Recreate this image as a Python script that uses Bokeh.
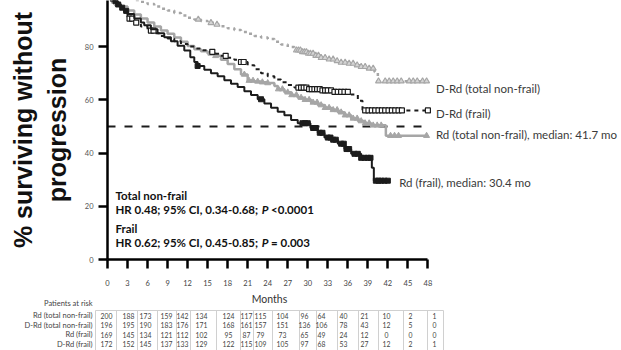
import numpy as np
from bokeh.plotting import figure
from bokeh.layouts import column
from bokeh.models import Range1d, FixedTicker, ColumnDataSource
from bokeh.core.properties import value
from bokeh.embed import file_html
from bokeh.resources import INLINE

# ---------------------------------------------------------------------------
# Kaplan-Meier estimates: step times (months) and % surviving without progression
# ---------------------------------------------------------------------------
drd_tnf_t = [0, 0.5, 1, 2, 3, 4, 5, 6, 7, 8, 9, 10, 11, 12, 13, 14, 15, 16, 17, 18,
             19, 20, 21, 22, 23, 24, 25, 26, 27, 28, 29, 30, 31, 32, 33, 34, 35, 36,
             37, 38, 39, 40, 40.5]
drd_tnf_s = [100, 99.5, 99, 98.5, 98, 97.5, 96.8, 96, 95, 94.2, 93.5, 92.6, 91.7, 90.8,
             90.2, 89.6, 88.9, 88.3, 87.6, 86.9, 86.2, 85.5, 84.8, 84.0, 83.4, 82.8,
             81.8, 80.8, 79.8, 78.6, 78.0, 77.4, 76.6, 75.8, 75.2, 74.6, 74.0, 73.6,
             73.0, 72.4, 71.8, 70.4, 67.0]
drd_tnf_end = 48
drd_tnf_cens = [13.6, 15.5, 16.4, 28.3, 28.6, 28.9, 29.2, 29.5, 29.8, 30.1, 30.4, 30.8,
                31.2, 31.6, 32.0, 32.6, 33.2, 33.8, 34.4, 35.0, 35.6, 36.2, 36.8, 37.4,
                38.0, 38.6, 39.2, 39.8, 40.6, 41.6, 42.2, 42.8, 43.4, 44.0, 45.2, 45.8,
                46.4, 47.2, 47.8]

drd_fr_t = [0, 0.5, 1, 1.5, 2, 2.5, 3, 4, 5, 6, 7, 8, 9, 10, 11, 12, 13, 14, 15, 16,
            17, 18, 19, 20, 21, 22, 23, 24, 25, 26, 27, 28, 30, 32, 34, 36.5, 37.5, 38.2]
drd_fr_s = [100, 98.5, 97, 95.5, 94, 92.5, 90.5, 89, 87.5, 86, 85, 84, 83, 82, 81, 80,
            79.3, 78.6, 78, 77.3, 76.5, 75.8, 75, 74.2, 73, 71.5, 70, 68.8, 67.6, 66.6,
            65.6, 64.6, 64, 63.5, 63, 62, 59.6, 56]
drd_fr_end = 48
drd_fr_cens = [3.3, 3.7, 4.3, 6.5, 6.9, 15.7, 17.7, 20.0, 20.4, 28.6, 29.0, 29.4, 29.8,
               30.2, 30.6, 31.0, 31.4, 31.8, 32.2, 32.6, 33.0, 33.5, 34.0, 34.5, 35.0,
               35.5, 36.0, 38.6, 39.1, 39.6, 40.1, 40.6, 41.1, 41.6, 42.1, 42.6, 43.1,
               43.6, 44.1, 48.0]

rd_tnf_t = [0, 0.5, 1, 1.5, 2, 3, 4, 5, 6, 7, 8, 9, 10, 11, 12, 13, 14, 15, 16, 17, 18,
            19, 20, 21, 22, 23, 24, 25, 25.5, 26.5, 27.5, 28.5, 29.5, 30.5, 31.5, 32.5,
            33.5, 34.5, 35.5, 36.5, 37.5, 38.5, 39.5, 41.7]
rd_tnf_s = [100, 98.5, 97, 96, 95, 93.5, 92, 90.5, 89, 87.5, 86, 84.8, 83.4, 81.8, 80.2,
            79, 78.2, 77.4, 76.5, 75, 73.4, 71.5, 69.5, 67.2, 66.9, 66.6, 66.3, 65.2, 64,
            62.8, 61.8, 60.8, 60, 59, 58, 57, 56.2, 55.3, 54.2, 53, 52, 51.2, 50.4, 46.5]
rd_tnf_end = 48
rd_tnf_cens = [0.5, 1.0, 1.5, 15.5, 16.2, 20.5, 21.2, 21.8, 22.5, 23.2, 24.0, 25.6, 26.2,
               27.0, 27.6, 28.3, 29.0, 29.6, 30.2, 30.8, 31.4, 32.0, 32.6, 33.2, 33.8,
               34.4, 35.0, 35.6, 36.2, 36.8, 37.4, 38.0, 38.6, 39.2, 39.8, 40.4, 41.0,
               42.4, 43.0, 43.6, 47.8]

rd_fr_t = [0, 0.3, 0.6, 1, 1.5, 2, 2.5, 3, 4, 5, 5.5, 6.5, 7.5, 8.5, 9.5, 10.5, 11.5,
           12.4, 13, 13.5, 14.5, 15.5, 16.5, 17.5, 18.5, 19.5, 20.5, 21.5, 22.5, 23.5,
           24.5, 25.5, 26.5, 27.5, 28.5, 30.4, 31.5, 32.5, 33.5, 34.5, 35.5, 36.5, 38,
           39.6, 39.9]
rd_fr_s = [100, 99, 98, 97, 95.8, 94.6, 93.4, 92.2, 90.5, 89, 88, 86.5, 85, 83.5, 82,
           80.3, 78.5, 76, 74.2, 72.7, 71.3, 70, 68.8, 67.3, 66, 64.8, 63.2, 61.8, 60.2,
           58.6, 57, 55.5, 54.2, 52.4, 51.2, 49.4, 47.6, 45.8, 45, 43.5, 41.5, 39.7,
           38.2, 34.5, 29.6]
rd_fr_end = 42
rd_fr_cens = [0.4, 0.8, 1.2, 1.6, 2.2, 2.8, 13.5, 23.0, 29.2, 29.6, 30.0, 30.8, 31.2,
              31.8, 32.2, 33.0, 33.4, 33.8, 34.2, 35.0, 35.4, 35.8, 36.2, 37.0, 37.5,
              38.0, 38.5, 39.0, 39.4, 40.2, 40.6, 41.0, 41.5, 42.0]

median_level = 50

# Number at risk
month_ticks = list(range(0, 49, 3))
y_ticks = [0, 20, 40, 60, 80]
risk_labels = ["Rd (total non-frail)", "D-Rd (total non-frail)", "Rd (frail)", "D-Rd (frail)"]
risk_rd_tnf = [200, 188, 173, 159, 142, 134, 124, 117, 115, 104, 96, 64, 40, 21, 10, 2, 1]
risk_drd_tnf = [196, 195, 190, 183, 176, 171, 168, 161, 157, 151, 136, 106, 78, 43, 12, 5, 0]
risk_rd_fr = [169, 145, 134, 121, 112, 102, 95, 87, 79, 73, 65, 49, 24, 12, 0, 0, 0]
risk_drd_fr = [172, 152, 145, 137, 133, 129, 122, 115, 109, 105, 97, 68, 53, 27, 12, 2, 1]

GRAY = "#a6a6a6"
BLACK = "#1c1c1c"
TXT = "#3a3a3a"
FONT = "Lato"


def step_xy(t, s, end):
    return list(t) + [end], list(s) + [s[-1]]


def at(t, s, times):
    idx = np.searchsorted(np.asarray(t), np.asarray(times), side="right") - 1
    return list(np.asarray(s)[idx])


# ---------------------------------------------------------------------------
# Survival plot
# ---------------------------------------------------------------------------
p = figure(width=621, height=293, x_range=Range1d(0, 77.0), y_range=Range1d(0, 97.3),
           output_backend="svg", toolbar_location=None,
           min_border_left=107, min_border_right=0, min_border_top=0,
           min_border_bottom=34)
p.frame_align = False
p.outline_line_color = None
p.grid.visible = False
p.background_fill_color = "white"

xa = p.xaxis[0]
xa.ticker = FixedTicker(ticks=month_ticks)
xa.bounds = (0, 48)
xa.axis_line_width = 2.5
xa.axis_line_color = "black"
xa.major_tick_line_width = 2.5
xa.major_tick_line_color = "black"
xa.major_tick_out = 9
xa.major_tick_in = 0
xa.minor_tick_line_color = None
xa.major_label_text_font = FONT
xa.major_label_text_font_size = "7.5px"
xa.major_label_text_color = "#444444"
xa.major_label_standoff = 11

ya = p.yaxis[0]
ya.ticker = FixedTicker(ticks=y_ticks)
ya.axis_line_width = 2.5
ya.axis_line_color = "black"
ya.major_tick_line_width = 2.5
ya.major_tick_line_color = "black"
ya.major_tick_out = 9
ya.major_tick_in = 0
ya.minor_tick_line_color = None
ya.major_label_text_font = FONT
ya.major_label_text_font_size = "7.5px"
ya.major_label_text_color = "#555555"
ya.major_label_standoff = 5
ya.axis_label = "% surviving without\nprogression"
ya.axis_label_text_font = "Liberation Sans"
ya.axis_label_text_font_style = "bold"
ya.axis_label_text_font_size = "25px"
ya.axis_label_text_color = "#111111"
ya.axis_label_standoff = 11

# median reference line
p.line([0, 47.8], [median_level, median_level], line_color=BLACK, line_width=2,
       line_dash="8 9")

# curves
x, y = step_xy(drd_tnf_t, drd_tnf_s, drd_tnf_end)
p.step(x, y, mode="after", line_color=GRAY, line_width=2.5, line_dash="3 4")
p.scatter(drd_tnf_cens, at(drd_tnf_t, drd_tnf_s, drd_tnf_cens), marker="triangle",
          size=6, fill_color="#d4d4d4", line_color=GRAY, line_width=1.1)

x, y = step_xy(rd_tnf_t, rd_tnf_s, rd_tnf_end)
p.step(x, y, mode="after", line_color=GRAY, line_width=2.5)
p.scatter(rd_tnf_cens, at(rd_tnf_t, rd_tnf_s, rd_tnf_cens), marker="triangle",
          size=6, fill_color=GRAY, line_color=GRAY)

x, y = step_xy(drd_fr_t, drd_fr_s, drd_fr_end)
p.step(x, y, mode="after", line_color=BLACK, line_width=2, line_dash="4 4")
p.scatter(drd_fr_cens, at(drd_fr_t, drd_fr_s, drd_fr_cens), marker="square",
          size=5, fill_color="white", line_color=BLACK, line_width=1.2)

x, y = step_xy(rd_fr_t, rd_fr_s, rd_fr_end)
p.step(x, y, mode="after", line_color=BLACK, line_width=2)
p.scatter(rd_fr_cens, at(rd_fr_t, rd_fr_s, rd_fr_cens), marker="square",
          size=5, fill_color=BLACK, line_color=BLACK)

# curve labels
p.text(x=[49.2, 49.2, 49.2, 43.7], y=[64.2, 54.8, 46.9, 28.9],
       text=["D-Rd (total non-frail)", "D-Rd (frail)",
             "Rd (total non-frail), median: 41.7 mo", "Rd (frail), median: 30.4 mo"],
       text_font=value(FONT), text_font_size="11.5px", text_color=TXT,
       text_align="left", text_baseline="middle")

# hazard ratio block
HR_SIZE = "11.5px"
p.text(x=[1.2, 1.2], y=[24.0, 11.6], text=["Total non-frail", "Frail"],
       text_font=value(FONT), text_font_size=HR_SIZE, text_font_style="bold",
       text_color="#111111", text_align="left", text_baseline="middle")
p.text(x=[1.2, 1.2], y=[18.8, 6.4],
       text=["HR 0.48; 95% CI, 0.34-0.68;", "HR 0.62; 95% CI, 0.45-0.85;"],
       text_font=value(FONT), text_font_size=HR_SIZE, text_font_style="bold",
       text_color="#111111", text_align="left", text_baseline="middle")
p.text(x=[23.1, 23.1], y=[18.8, 6.4], text=["P", "P"],
       text_font=value(FONT), text_font_size=HR_SIZE, text_font_style="bold italic",
       text_color="#111111", text_align="left", text_baseline="middle")
p.text(x=[24.5, 24.5], y=[18.8, 6.4], text=["<0.0001", "= 0.003"],
       text_font=value(FONT), text_font_size=HR_SIZE, text_font_style="bold",
       text_color="#111111", text_align="left", text_baseline="middle")

# ---------------------------------------------------------------------------
# Patients-at-risk table (x in pixels across the page width)
# ---------------------------------------------------------------------------
cell_edges = [95, 116, 137, 157, 176, 190, 216, 240, 253, 272, 299, 316, 337, 358,
              378, 403, 427, 443]
cell_text_x = [106, 128, 145, 166, 182, 201, 228, 246, 260, 282, 304, 321, 343, 364,
               386, 410, 434]
row_y = [22, 31.5, 41, 50.5]

t = figure(width=621, height=57, x_range=Range1d(0, 621), y_range=Range1d(57, 0),
           output_backend="svg", toolbar_location=None, min_border=0,
           x_axis_location=None, y_axis_location=None)
t.frame_align = False
t.outline_line_color = None
t.grid.visible = False

t.segment(x0=cell_edges, x1=cell_edges, y0=[17] * len(cell_edges),
          y1=[57] * len(cell_edges), line_color="#d0d0d0", line_width=1)
t.segment(x0=[cell_edges[0]], x1=[cell_edges[-1]], y0=[17], y1=[17],
          line_color="#d0d0d0", line_width=1)

t.text(x=[269], y=[5], text=["Months"], text_font=value(FONT), text_font_size="10.5px",
       text_color="#333333", text_align="center", text_baseline="middle")
t.text(x=[92], y=[10], text=["Patients at risk"], text_font=value(FONT),
       text_font_size="7.5px", text_color="#444444", text_align="right",
       text_baseline="middle")
t.text(x=[92] * 4, y=row_y, text=risk_labels, text_font=value(FONT),
       text_font_size="7.5px", text_color="#444444", text_align="right",
       text_baseline="middle")

rows = [risk_rd_tnf, risk_drd_tnf, risk_rd_fr, risk_drd_fr]
cx, cy, ct = [], [], []
for ry, vals in zip(row_y, rows):
    for c, v in zip(cell_text_x, vals):
        cx.append(c)
        cy.append(ry)
        ct.append(str(v))
t.text(x="x", y="y", text="t", source=ColumnDataSource(dict(x=cx, y=cy, t=ct)),
       text_font=value(FONT), text_font_size="6.8px", text_color="#444444",
       text_align="center", text_baseline="middle")

layout = column(p, t, spacing=0)
open("out.html", "w").write(file_html(layout, INLINE))
